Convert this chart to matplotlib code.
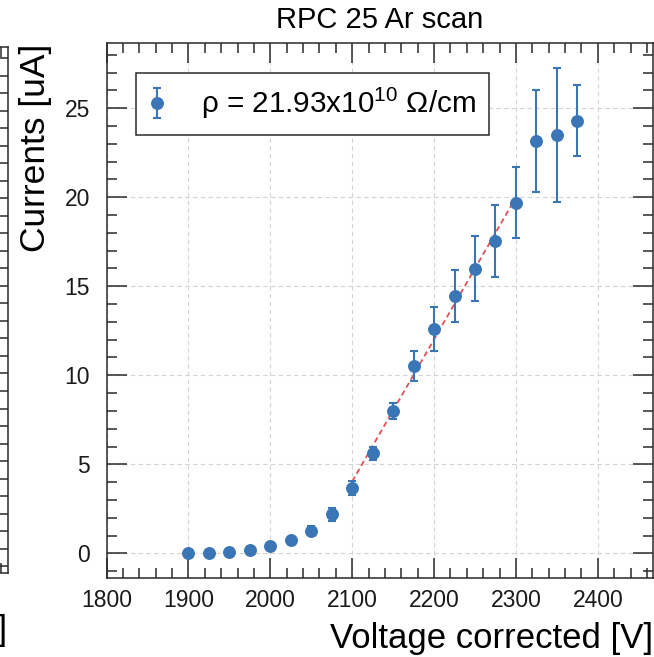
import numpy as np
import matplotlib
matplotlib.use("Agg")
import matplotlib.pyplot as plt
from matplotlib.ticker import MultipleLocator

plt.rcParams["font.family"] = ["Liberation Sans", "DejaVu Sans"]
plt.rcParams["mathtext.fontset"] = "custom"
plt.rcParams["mathtext.rm"] = "Liberation Sans"
plt.rcParams["mathtext.it"] = "Liberation Sans:italic"

# data
voltage = [1900, 1925, 1950, 1975, 2000, 2025, 2050, 2075, 2100, 2125,
           2150, 2175, 2200, 2225, 2250, 2275, 2300, 2325, 2350, 2375]
current = [0.03, 0.02, 0.07, 0.20, 0.43, 0.75, 1.27, 2.19, 3.69, 5.62,
           8.01, 10.52, 12.62, 14.46, 15.99, 17.53, 19.70, 23.16, 23.49, 24.31]
current_err = [0.04, 0.04, 0.05, 0.06, 0.08, 0.12, 0.26, 0.38, 0.39, 0.37,
               0.46, 0.84, 1.24, 1.45, 1.84, 2.01, 1.99, 2.85, 3.77, 2.00]
fit_lo, fit_hi = 2100, 2300

title = "RPC 25 Ar scan"
xlabel = "Voltage corrected [V]"
ylabel = "Currents [uA]"
legend_label = r"ρ = 21.93x10$^{10}$ Ω/cm"

BLUE = "#3a76b5"
DARK = "#2a2a2a"
W, H = 654, 657

fig = plt.figure(figsize=(W / 100, H / 100), dpi=100)


def style_axes(ax):
    ax.set_xlim(1800, 2468)
    ax.set_ylim(-1.37, 28.65)
    ax.xaxis.set_major_locator(MultipleLocator(100))
    ax.xaxis.set_minor_locator(MultipleLocator(20))
    ax.yaxis.set_major_locator(MultipleLocator(5))
    ax.yaxis.set_minor_locator(MultipleLocator(1))
    ax.tick_params(which="both", direction="in", top=True, right=True,
                   color=DARK, width=1.1, labelcolor="#1a1a1a")
    ax.tick_params(which="major", length=14.4)
    ax.tick_params(which="minor", length=7.2)
    ax.tick_params(axis="x", labelsize=16.5, pad=8)
    ax.tick_params(axis="y", labelsize=16.5, pad=12)
    for s in ax.spines.values():
        s.set_linewidth(1.1)
        s.set_color(DARK)
    ax.set_xlabel(xlabel, fontsize=25, loc="right", labelpad=7)


# neighbouring panel, mostly cut off on the left (only its right edge shows)
left_ax = fig.add_axes([(7.5 - 547) / W, (H - 572.7) / H, 547 / W, 526 / H])
style_axes(left_ax)
left_ax.tick_params(labelleft=False, labelbottom=False)
left_ax.xaxis.set_label_coords(1.0, -0.079)

ax = fig.add_axes([106.5 / W, (H - 577.7) / H, 547 / W, 534.4 / H])
style_axes(ax)
ax.set_ylabel(ylabel, fontsize=25.5, loc="top", labelpad=9)
ax.grid(True, which="major", linestyle=(0, (4, 3)), color="#d4d4d4", lw=0.8)
ax.set_axisbelow(True)

v = np.array(voltage)
c = np.array(current)
sel = (v >= fit_lo) & (v <= fit_hi)
slope, icpt = np.polyfit(v[sel], c[sel], 1)
xf = np.array([fit_lo, fit_hi])
ax.plot(xf, slope * xf + icpt, linestyle=(0, (3, 2)), color="#e05055", lw=1.3, zorder=2)

ax.errorbar(voltage, current, yerr=current_err, fmt="o", color=BLUE, ms=8.3,
            elinewidth=1.5, capsize=3, capthick=1.5, label=legend_label, zorder=3)

ax.set_title(title, fontsize=21, pad=11)

leg = ax.legend(loc="upper left", fontsize=21.3, frameon=True, fancybox=False,
                edgecolor=DARK, framealpha=1, borderpad=0.45, handlelength=0.5,
                handletextpad=1.25, borderaxespad=1.0)
leg.get_frame().set_linewidth(1.1)

fig.savefig("out.png", dpi=100)
